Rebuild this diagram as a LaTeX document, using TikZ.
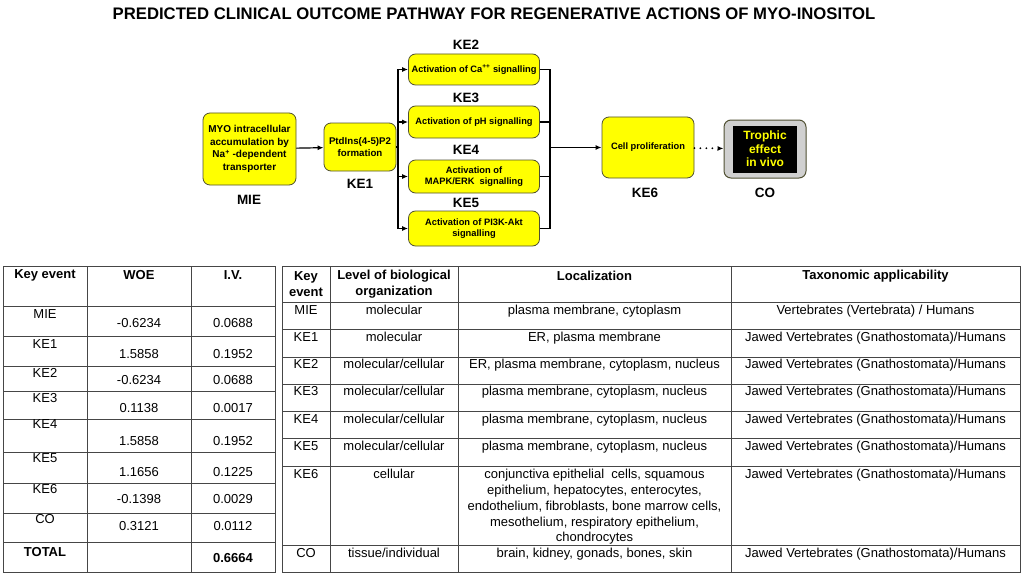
\documentclass[tikz,border=0pt]{standalone}
\usepackage{fontspec}
\setmainfont{Liberation Sans}
\usetikzlibrary{arrows.meta}

\definecolor{evyellow}{RGB}{255,255,0}
\definecolor{evedge}{RGB}{80,80,50}
\definecolor{cogray}{RGB}{208,208,208}
\definecolor{tabgray}{RGB}{70,70,70}

\tikzset{
  evbox/.style={draw=evedge, fill=evyellow, line width=0.8pt, rounded corners=7pt,
    align=center, inner sep=1pt, font=\bfseries\fontsize{9.3}{11}\selectfont},
  kelbl/.style={font=\bfseries\fontsize{13.5}{15}\selectfont},
  conn/.style={line width=1.2pt, ->},
  tabline/.style={draw=tabgray, line width=0.8pt},
  cell/.style={inner sep=0pt, anchor=base, font=\fontsize{13}{15.7}\selectfont},
  hcell/.style={inner sep=0pt, align=center, font=\bfseries\fontsize{13}{15.7}\selectfont},
}

\begin{document}
\begin{tikzpicture}[x=1pt, y=-1pt, >={Latex[length=6pt,width=5pt]}]
  \useasboundingbox (0,0) rectangle (1024,575);
  \node[font=\bfseries\fontsize{16.7}{19}\selectfont] (title) at (494,14)
    {PREDICTED CLINICAL OUTCOME PATHWAY FOR REGENERATIVE ACTIONS OF MYO-INOSITOL};

  \node[evbox, minimum width=93pt, minimum height=72pt, font=\bfseries\fontsize{10}{12.5}\selectfont]
    (mie) at (249.5,149) {MYO intracellular\\accumulation by\\Na\textsuperscript{+} -dependent\\transporter};
  \node[evbox, minimum width=72pt, minimum height=48pt, font=\bfseries\fontsize{9.7}{12}\selectfont]
    (ke1) at (360,147) {PtdIns(4-5)P2\\formation};
  \node[evbox, minimum width=131pt, minimum height=31pt] (ke2) at (474,69.5) {Activation of Ca\textsuperscript{++} signalling};
  \node[evbox, minimum width=131pt, minimum height=32pt] (ke3) at (474,122) {Activation of pH signalling};
  \node[evbox, minimum width=131pt, minimum height=33pt] (ke4) at (474,176.5) {Activation of\\MAPK/ERK\ \ signalling};
  \node[evbox, minimum width=131pt, minimum height=35pt] (ke5) at (474,228.5) {Activation of PI3K-Akt\\signalling};
  \node[evbox, minimum width=92pt, minimum height=61pt] (ke6) at (648,147.5) {Cell proliferation};
  \node[draw=evedge, fill=cogray, line width=1pt, rounded corners=7pt, minimum width=82pt, minimum height=58pt]
    (co) at (765,149) {};
  \node[fill=black, text=evyellow, minimum width=64pt, minimum height=47pt, inner sep=0pt, align=center,
    font=\bfseries\fontsize{12}{13.5}\selectfont] (cotxt) at (co.center) {Trophic\\effect\\in vivo};

  \node[kelbl] (miel) at (249,200) {MIE};
  \node[kelbl] (ke1l) at (360,184) {KE1};
  \node[kelbl] (ke2l) at (466,45) {KE2};
  \node[kelbl] (ke3l) at (466,98) {KE3};
  \node[kelbl] (ke4l) at (466,150) {KE4};
  \node[kelbl] (ke5l) at (466,203) {KE5};
  \node[kelbl] (ke6l) at (645,193) {KE6};
  \node[kelbl] (col) at (765,193) {CO};

  \coordinate (busl) at (398,0);
  \coordinate (busr) at (550,0);
  \draw[conn] (mie) -- (ke1);
  \draw[line width=1.2pt] (ke1.east) -- (busl |- ke1);
  \draw[line width=1.2pt] (busl |- ke2) -- (busl |- ke5);
  \draw[line width=1.2pt] (busr |- ke2) -- (busr |- ke5);
  \foreach \k in {ke2,ke3,ke4,ke5} {
    \draw[conn] (busl |- \k.west) -- (\k.west);
    \draw[line width=1.2pt] (\k.east) -- (busr |- \k.east);
  }
  \draw[conn] (busr |- ke6) -- (ke6);
  \draw[line width=2pt, dash pattern=on 0pt off 6pt, line cap=round, ->] (ke6) -- (co);

  % weight of evidence table
  \draw[tabline] (3,266) rectangle (275,572);
  \foreach \x in {87,191} \draw[tabline] (\x,266) -- (\x,572);
  \foreach \y in {306,336,366,391,419,452,483,513,542} \draw[tabline] (3,\y) -- (275,\y);
  \node[hcell] (lh1) at (45,275) {Key event};
  \node[hcell] (lh2) at (139,275) {WOE};
  \node[hcell] (lh3) at (233,275) {I.V.};
  \foreach \ke/\woe/\iv/\ya/\yb [count=\i] in {MIE/-0.6234/0.0688/318/327, KE1/1.5858/0.1952/348/358,
      KE2/-0.6234/0.0688/377/384, KE3/0.1138/0.0017/402/412, KE4/1.5858/0.1952/428/445,
      KE5/1.1656/0.1225/462/476, KE6/-0.1398/0.0029/493/503, CO/0.3121/0.0112/523/530} {
    \node[cell] (lk\i) at (45,\ya) {\ke};
    \node[cell] (lw\i) at (139,\yb) {\woe};
    \node[cell] (lv\i) at (233,\yb) {\iv};
  }
  \node[hcell] (ltot) at (45,552) {TOTAL};
  \node[hcell] (ltotv) at (233,558) {0.6664};

  % applicability table
  \draw[tabline] (282,266) rectangle (1020,572);
  \foreach \x in {330,458,731} \draw[tabline] (\x,266) -- (\x,572);
  \foreach \y in {302,329,357,384,411,438,466,545} \draw[tabline] (282,\y) -- (1020,\y);
  \node[hcell] (rh1) at (306,284) {Key\\event};
  \node[hcell] (rh2) at (394,284) {Level of biological\\organization};
  \node[hcell] (rh3) at (594.5,276) {Localization};
  \node[hcell] (rh4) at (875.5,276) {Taxonomic applicability};
  \foreach \ke/\lvl/\loc/\tax/\y [count=\i] in {
      MIE/molecular/{plasma membrane, cytoplasm}/{Vertebrates (Vertebrata) / Humans}/314.7,
      KE1/molecular/{ER, plasma membrane}/{Jawed Vertebrates (Gnathostomata)/Humans}/341.7,
      KE2/{molecular/cellular}/{ER, plasma membrane, cytoplasm, nucleus}/{Jawed Vertebrates (Gnathostomata)/Humans}/368.7,
      KE3/{molecular/cellular}/{plasma membrane, cytoplasm, nucleus}/{Jawed Vertebrates (Gnathostomata)/Humans}/395.7,
      KE4/{molecular/cellular}/{plasma membrane, cytoplasm, nucleus}/{Jawed Vertebrates (Gnathostomata)/Humans}/423.7,
      KE5/{molecular/cellular}/{plasma membrane, cytoplasm, nucleus}/{Jawed Vertebrates (Gnathostomata)/Humans}/450.7,
      KE6/cellular/{conjunctiva epithelial\ \ cells, squamous}/{Jawed Vertebrates (Gnathostomata)/Humans}/478.7,
      CO/{tissue/individual}/{brain,\ kidney,\ gonads, bones, skin}/{Jawed Vertebrates (Gnathostomata)/Humans}/557.7} {
    \node[cell] (rk\i) at (306,\y) {\ke};
    \node[cell] (rl\i) at (394,\y) {\lvl};
    \node[cell] (rc\i) at (594.5,\y) {\loc};
    \node[cell] (rt\i) at (875.5,\y) {\tax};
  }
  \node[inner sep=0pt, align=center, anchor=north, font=\fontsize{13}{15.7}\selectfont] (rc7b) at (594.5,485)
    {epithelium,\ hepatocytes, enterocytes,\\endothelium, fibroblasts, bone marrow cells,\\mesothelium, respiratory epithelium,\\chondrocytes};
\end{tikzpicture}
\end{document}
